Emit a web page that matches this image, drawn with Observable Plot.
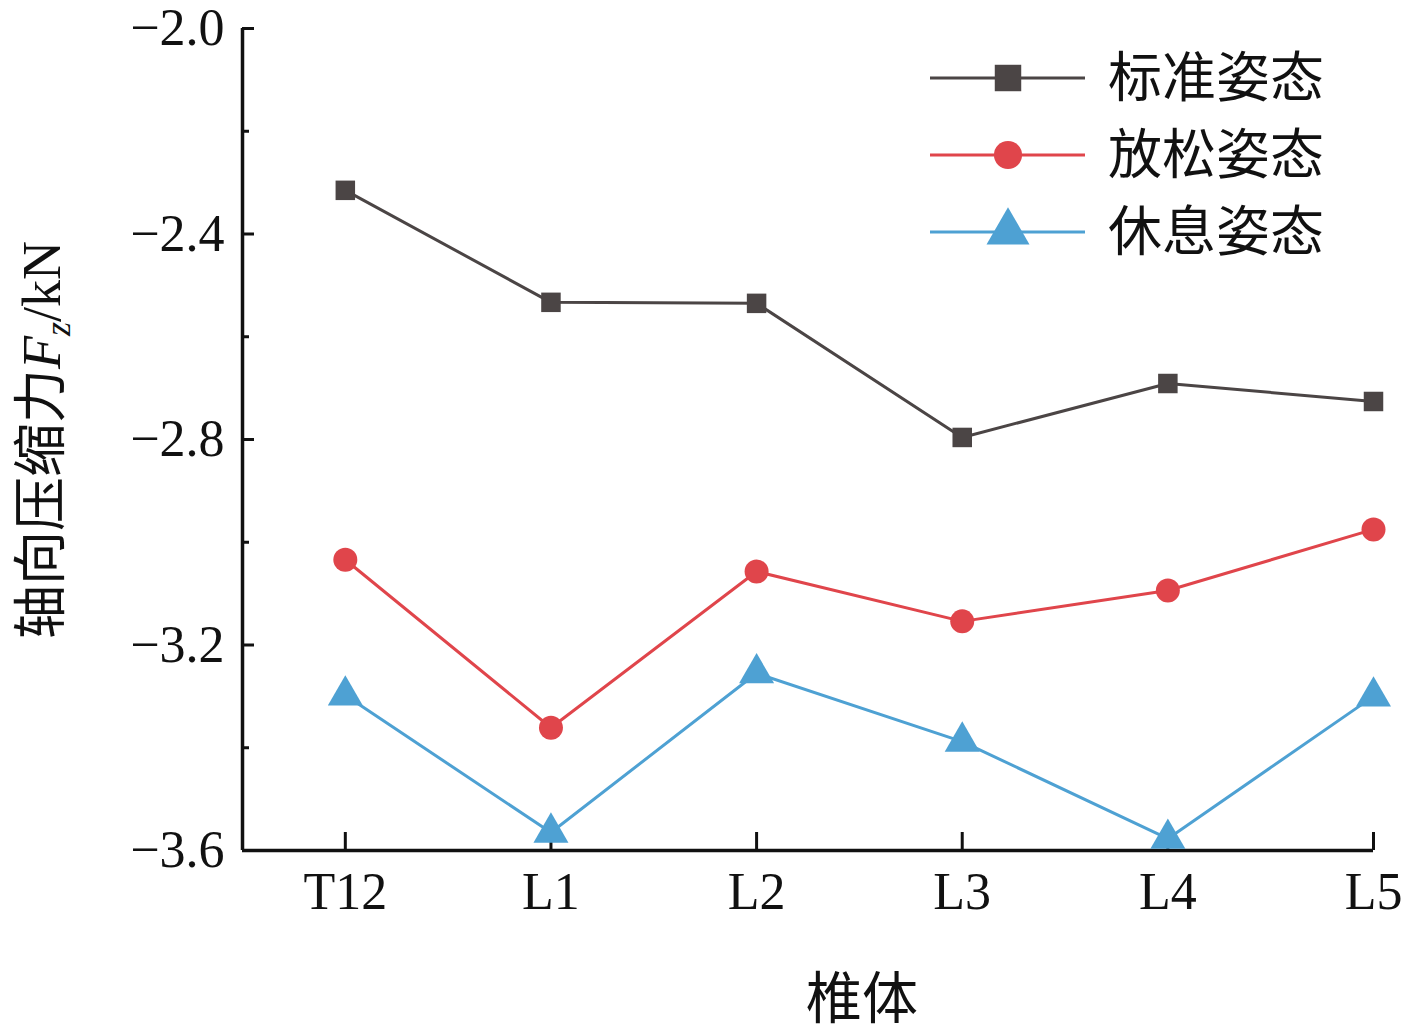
<!DOCTYPE html>
<html><head><meta charset="utf-8">
<script src="https://cdn.jsdelivr.net/npm/d3@7"></script>
<script src="https://cdn.jsdelivr.net/npm/@observablehq/plot@0.6"></script>
<style>body{margin:0;background:#fff}#wrap{position:relative;width:1415px;height:1034px}
#legend{position:absolute;left:925px;top:40px;font-family:"Noto Sans CJK SC";font-size:54px}
</style></head><body><div id="wrap"><div id="chart"></div><svg id="legend" width="480" height="230"></svg></div>
<script>
const categories = ["T12","L1","L2","L3","L4","L5"];
const standard = [-2.315,-2.533,-2.535,-2.796,-2.691,-2.726];
const relaxed = [-3.034,-3.361,-3.057,-3.154,-3.094,-2.975];
const rest = [-3.298,-3.565,-3.255,-3.388,-3.577,-3.300];
const seriesNames = ["标准姿态","放松姿态","休息姿态"];
const colors = ["#4b4545","#e0454b","#4ea1d3"];
const symbols = ["square","circle","triangle"];
const majorTicks = [-2.0,-2.4,-2.8,-3.2,-3.6];
const minorTicks = [-2.2,-2.6,-3.0,-3.4];

const all = [standard, relaxed, rest];
const data = [];
all.forEach((vals, s) => vals.forEach((v, i) => data.push({s, i, v})));
const font = "Liberation Serif";
const marks = [
  Plot.ruleX([-0.5],{strokeWidth:3.5}),
  Plot.ruleY([-3.6],{strokeWidth:3.5}),
  Plot.axisY(majorTicks,{tickSize:-12,tickPadding:30,strokeWidth:3,fontSize:52,tickFormat:d=>d.toFixed(1).replace("-","−"),label:null}),
  Plot.axisY(minorTicks,{tickSize:-7,tickFormat:()=>"",strokeWidth:3,label:null}),
  Plot.axisX(d3.range(categories.length),{tickSize:-18,tickPadding:40,strokeWidth:3,fontSize:52,tickFormat:i=>categories[i],label:null}),
];
all.forEach((vals, s) => {
  const d = data.filter(e => e.s === s);
  marks.push(Plot.line(d,{x:"i",y:"v",stroke:colors[s],strokeWidth:3}));
  marks.push(Plot.dot(d,{x:"i",y:"v",fill:colors[s],symbol:symbols[s],r:s===0?11:s===1?12:13}));
});
const chart = Plot.plot({
  width:1415,height:1034,marginLeft:242,marginTop:28,marginBottom:184,marginRight:42,
  style:{fontFamily:font,fontSize:"52px",color:"#111"},
  x:{domain:[-0.5,5],axis:null},
  y:{domain:[-3.6,-2.0],axis:null},
  marks
});
const svg = d3.select(chart);
svg.append("text").attr("x",862).attr("y",1018).attr("text-anchor","middle")
  .style("font-family","Noto Sans CJK SC").style("font-size","56px").text("椎体");
const yl = svg.append("text").attr("transform","translate(60,440) rotate(-90)").attr("text-anchor","middle")
  .style("font-size","54px");
yl.append("tspan").style("font-family","Noto Sans CJK SC").text("轴向压缩力");
yl.append("tspan").style("font-family",font).style("font-style","italic").text("F");
yl.append("tspan").style("font-family",font).style("font-style","italic").style("font-size","36px").attr("dy",10).text("z");
yl.append("tspan").style("font-family",font).attr("dy",-10).text("/kN");
document.getElementById("chart").appendChild(chart);
const lg = d3.select("#legend");
seriesNames.forEach((n, s) => {
  const y = 38 + s*77;
  lg.append("line").attr("x1",5).attr("x2",160).attr("y1",y).attr("y2",y).attr("stroke",colors[s]).attr("stroke-width",3);
  lg.append("path").attr("transform",`translate(83,${y})`).attr("fill",colors[s])
    .attr("d",d3.symbol(s===0?d3.symbolSquare:s===1?d3.symbolCircle:d3.symbolTriangle, s===0?700:s===1?620:800)());
  lg.append("text").attr("x",183).attr("y",y+19).attr("fill","#111").text(n);
});
</script></body></html>
